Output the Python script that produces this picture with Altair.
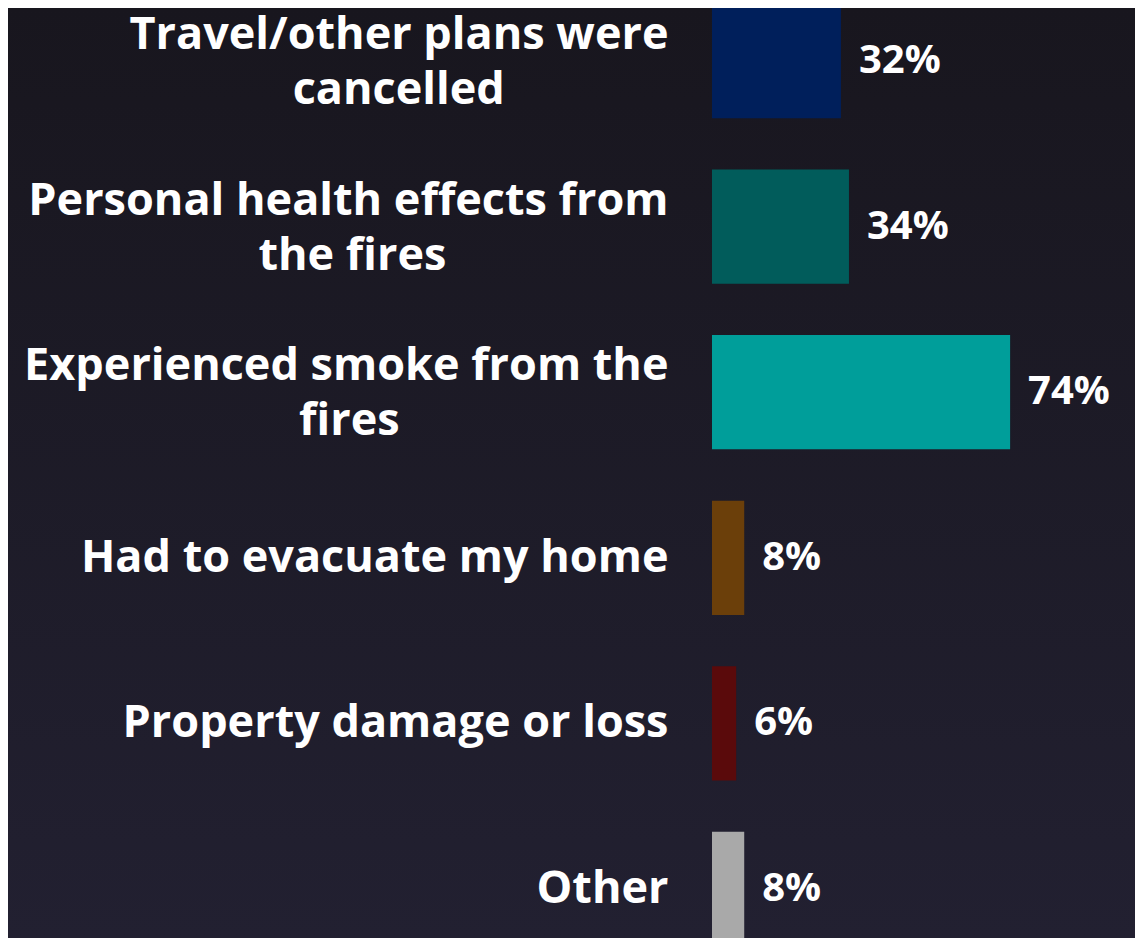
import altair as alt
import pandas as pd

# --- data ---
line1 = [
    "Travel/other plans were",
    "Personal health effects from",
    "Experienced smoke from the",
    "Had to evacuate my home",
    "Property damage or loss",
    "Other",
]
line2 = ["cancelled", "the fires", "fires", "", "", ""]
values = [32, 34, 74, 8, 6, 8]
colors = ["#001f5b", "#015c5b", "#009e9a", "#6b3f0a", "#5a0a0b", "#a9a9a9"]

# non-breaking-space padding (closed by a word joiner so it is not trimmed)
# so the short second line sits centred under the first
NBSP = "\u00a0"
WJ = "\u2060"
pad_counts = [14, 19, 23, 0, 0, 0]

labels = []
for a, b, n in zip(line1, line2, pad_counts):
    labels.append(a + ("|" + b + NBSP * n + WJ if b else ""))

df = pd.DataFrame({"label": labels, "value": values, "pct": [f"{v}%" for v in values]})

FONT = "Open Sans"
W, H = 423, 930

y_enc = alt.Y(
    "label:N",
    sort=None,
    scale=alt.Scale(range=[-29.8, 963.8], paddingInner=0.31, paddingOuter=0.155),
    axis=alt.Axis(
        title=None,
        domain=False,
        ticks=False,
        labelFont=FONT,
        labelFontWeight="bold",
        labelFontSize=45,
        labelColor="white",
        labelLineHeight=55,
        labelPadding=44,
        labelLimit=2000,
        labelAlign="right",
        labelBaseline="middle",
        labelOffset={
            "condition": {"test": "indexof(datum.value, '|') >= 0", "value": -26},
            "value": 0,
        },
        labelExpr="split(datum.label, '|')",
        zindex=1,
    ),
)
x_enc = alt.X(
    "value:Q",
    scale=alt.Scale(domain=[0, 105], nice=False),
    axis=None,
)

bg = alt.Chart(alt.Data(values=[{}])).mark_rect(
    color=alt.Gradient(
        gradient="linear",
        stops=[
            alt.GradientStop(color="#18161e", offset=0),
            alt.GradientStop(color="#222031", offset=1),
        ],
        x1=0, x2=0, y1=0, y2=1,
    )
).encode(
    x=alt.value(-704), x2=alt.value(W), y=alt.value(0), y2=alt.value(H)
)

bars = alt.Chart(df).mark_bar().encode(
    y=y_enc,
    x=x_enc,
    color=alt.Color("label:N", sort=None, scale=alt.Scale(domain=labels, range=colors), legend=None),
)

text = alt.Chart(df).mark_text(
    align="left", baseline="middle", dx=18, font=FONT, fontWeight="bold", fontSize=40, color="white"
).encode(
    y=alt.Y("label:N", sort=None),
    x="value:Q",
    text="pct:N",
)

chart = (
    alt.layer(bg, bars, text)
    .properties(
        width=W,
        height=H,
        autosize=alt.AutoSizeParams(type="none"),
        padding={"left": 704, "top": 0, "right": 0, "bottom": 0},
        background="#1c1a26",
    )
    .configure_view(stroke=None)
)

chart.save("out.html", embed_options={"renderer": "svg", "actions": False})
